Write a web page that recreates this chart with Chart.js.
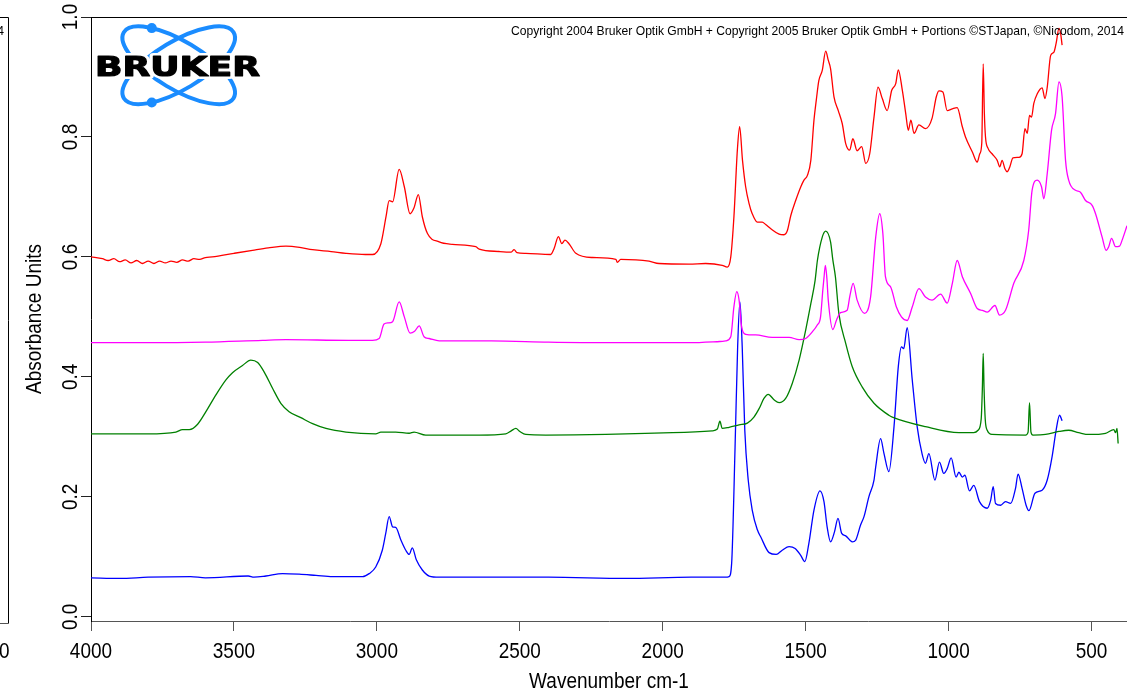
<!DOCTYPE html>
<html>
<head>
<meta charset="utf-8">
<title>IR spectra</title>
<script src="https://cdn.jsdelivr.net/npm/chart.js@4.4.1/dist/chart.umd.min.js"></script>
<style>
  html, body { margin: 0; padding: 0; background: #fff; }
  canvas { display: block; }
</style>
</head>
<body>
<canvas id="spectra" width="1127" height="693"></canvas>
<script>
// wavenumber (cm-1), absorbance pairs for each trace
const redSpectrum = [
  [4000,0.600],[3960,0.597],[3940,0.594],[3920,0.597],[3900,0.592],[3880,0.595],[3860,0.590],[3840,0.594],
  [3820,0.589],[3800,0.593],[3780,0.589],[3760,0.593],[3740,0.590],[3720,0.593],[3700,0.591],[3680,0.595],
  [3660,0.593],[3640,0.597],[3620,0.596],[3600,0.599],[3576,0.600],[3500,0.606],[3435,0.611],[3380,0.615],
  [3318,0.618],[3270,0.616],[3225,0.612],[3160,0.609],[3108,0.606],[3040,0.604],[3015,0.604],[2986,0.622],
  [2968,0.667],[2957,0.694],[2945,0.692],[2922,0.746],[2904,0.717],[2884,0.672],[2870,0.682],[2855,0.704],
  [2841,0.667],[2823,0.639],[2782,0.625],[2736,0.621],[2654,0.617],[2642,0.613],[2572,0.609],[2530,0.608],
  [2520,0.612],[2510,0.607],[2479,0.606],[2392,0.604],[2380,0.614],[2365,0.634],[2353,0.622],[2342,0.628],
  [2328,0.622],[2304,0.606],[2246,0.599],[2164,0.596],[2159,0.591],[2147,0.596],[2048,0.593],[2013,0.589],
  [1908,0.588],[1850,0.589],[1792,0.586],[1774,0.583],[1762,0.600],[1751,0.667],[1739,0.778],[1731,0.817],
  [1721,0.761],[1710,0.717],[1698,0.689],[1687,0.672],[1669,0.658],[1652,0.658],[1640,0.654],[1622,0.647],
  [1593,0.638],[1576,0.637],[1564,0.644],[1552,0.669],[1535,0.694],[1517,0.717],[1506,0.728],[1494,0.736],
  [1482,0.761],[1471,0.828],[1463,0.861],[1454,0.894],[1442,0.911],[1430,0.943],[1421,0.928],[1413,0.914],
  [1401,0.867],[1386,0.844],[1372,0.822],[1360,0.789],[1346,0.778],[1335,0.797],[1320,0.777],[1304,0.784],
  [1290,0.756],[1276,0.772],[1261,0.833],[1247,0.883],[1232,0.864],[1215,0.844],[1199,0.878],[1185,0.889],
  [1176,0.912],[1162,0.878],[1150,0.839],[1141,0.811],[1132,0.828],[1121,0.806],[1104,0.820],[1081,0.814],
  [1058,0.831],[1043,0.867],[1034,0.877],[1020,0.875],[1005,0.844],[987,0.847],[970,0.849],[952,0.817],
  [941,0.800],[917,0.775],[900,0.758],[891,0.772],[884,0.790],[879,0.922],[875,0.840],[871,0.800],
  [862,0.781],[848,0.772],[830,0.761],[821,0.750],[813,0.761],[803,0.747],[795,0.742],[786,0.750],
  [775,0.765],[754,0.766],[743,0.772],[733,0.814],[725,0.806],[717,0.836],[710,0.833],[702,0.856],
  [690,0.872],[673,0.882],[663,0.864],[655,0.883],[643,0.936],[632,0.941],[624,0.956],[614,0.981],
  [608,0.972],[603,0.953]
];

const magentaSpectrum = [
  [4000,0.457],[3800,0.457],[3600,0.458],[3400,0.461],[3318,0.462],[3100,0.461],[3015,0.461],[2992,0.464],
  [2975,0.488],[2960,0.490],[2945,0.492],[2922,0.525],[2904,0.500],[2884,0.473],[2868,0.476],[2852,0.485],
  [2835,0.467],[2817,0.464],[2782,0.460],[2600,0.460],[2400,0.458],[2200,0.457],[2000,0.457],[1908,0.457],
  [1800,0.459],[1780,0.460],[1762,0.467],[1751,0.517],[1741,0.542],[1733,0.528],[1724,0.483],[1710,0.471],
  [1675,0.470],[1617,0.466],[1558,0.466],[1523,0.462],[1500,0.464],[1477,0.475],[1460,0.486],[1448,0.500],
  [1440,0.545],[1436,0.565],[1431,0.586],[1426,0.565],[1421,0.528],[1405,0.479],[1392,0.495],[1378,0.507],
  [1355,0.511],[1345,0.536],[1334,0.556],[1320,0.528],[1294,0.506],[1273,0.533],[1255,0.633],[1241,0.672],
  [1230,0.639],[1221,0.567],[1203,0.550],[1183,0.517],[1165,0.500],[1145,0.494],[1127,0.517],[1104,0.547],
  [1081,0.533],[1058,0.528],[1028,0.538],[1005,0.523],[987,0.556],[970,0.594],[952,0.567],[923,0.539],
  [900,0.514],[882,0.511],[865,0.508],[838,0.519],[822,0.503],[801,0.511],[772,0.556],[737,0.594],
  [720,0.644],[708,0.711],[690,0.728],[675,0.717],[667,0.697],[655,0.739],[640,0.811],[626,0.839],
  [614,0.892],[603,0.867],[591,0.761],[580,0.728],[556,0.711],[539,0.708],[521,0.694],[498,0.686],
  [486,0.672],[463,0.633],[449,0.611],[440,0.617],[430,0.631],[416,0.617],[402,0.618],[393,0.628],
  [376,0.652]
];

const greenSpectrum = [
  [4000,0.305],[3800,0.305],[3703,0.308],[3680,0.312],[3656,0.312],[3627,0.321],[3598,0.342],[3563,0.370],
  [3528,0.395],[3505,0.407],[3470,0.419],[3441,0.428],[3417,0.424],[3394,0.408],[3365,0.381],[3336,0.356],
  [3307,0.342],[3266,0.332],[3225,0.322],[3178,0.314],[3108,0.308],[3004,0.305],[2986,0.308],[2934,0.308],
  [2887,0.306],[2870,0.308],[2829,0.303],[2642,0.303],[2549,0.305],[2530,0.310],[2514,0.314],[2500,0.309],
  [2479,0.304],[2409,0.303],[2199,0.304],[1966,0.307],[1827,0.310],[1809,0.313],[1800,0.326],[1792,0.314],
  [1768,0.316],[1733,0.320],[1704,0.323],[1681,0.333],[1663,0.347],[1646,0.364],[1631,0.371],[1611,0.362],
  [1593,0.357],[1570,0.364],[1547,0.389],[1523,0.428],[1500,0.478],[1482,0.522],[1467,0.561],[1459,0.594],
  [1442,0.633],[1430,0.643],[1413,0.625],[1405,0.595],[1396,0.567],[1384,0.506],[1360,0.456],[1337,0.417],
  [1302,0.383],[1261,0.356],[1209,0.336],[1197,0.333],[1081,0.317],[964,0.307],[912,0.307],[897,0.311],
  [886,0.330],[882,0.380],[879,0.439],[876,0.380],[872,0.330],[865,0.311],[848,0.304],[731,0.303],
  [722,0.308],[717,0.357],[712,0.308],[705,0.303],[661,0.304],[614,0.309],[580,0.311],[545,0.307],
  [509,0.304],[451,0.306],[422,0.312],[416,0.307],[411,0.314],[407,0.289]
];

const blueSpectrum = [
  [4000,0.065],[3900,0.064],[3800,0.066],[3652,0.067],[3600,0.065],[3450,0.068],[3430,0.066],[3388,0.068],
  [3330,0.072],[3272,0.071],[3213,0.069],[3155,0.067],[3050,0.067],[3027,0.072],[3004,0.083],[2981,0.111],
  [2969,0.139],[2957,0.167],[2945,0.150],[2934,0.149],[2916,0.128],[2899,0.111],[2887,0.104],[2876,0.115],
  [2862,0.095],[2841,0.078],[2817,0.068],[2782,0.066],[2400,0.066],[2129,0.064],[1900,0.066],[1780,0.066],
  [1768,0.067],[1759,0.089],[1747,0.283],[1738,0.450],[1730,0.525],[1722,0.450],[1713,0.311],[1701,0.228],
  [1687,0.178],[1669,0.145],[1657,0.133],[1628,0.107],[1603,0.104],[1582,0.111],[1558,0.117],[1537,0.114],
  [1518,0.103],[1503,0.092],[1489,0.122],[1471,0.178],[1450,0.210],[1436,0.192],[1425,0.150],[1413,0.125],
  [1399,0.142],[1387,0.164],[1374,0.139],[1360,0.135],[1337,0.125],[1325,0.128],[1308,0.153],[1296,0.167],
  [1279,0.200],[1261,0.228],[1255,0.250],[1238,0.297],[1226,0.272],[1209,0.242],[1191,0.317],[1176,0.417],
  [1165,0.450],[1157,0.447],[1145,0.482],[1127,0.394],[1110,0.317],[1093,0.272],[1081,0.256],[1069,0.272],
  [1048,0.228],[1032,0.258],[1017,0.239],[1005,0.247],[991,0.265],[974,0.233],[964,0.241],[952,0.233],
  [943,0.236],[927,0.210],[912,0.219],[892,0.192],[865,0.181],[853,0.194],[844,0.217],[836,0.189],
  [818,0.186],[801,0.192],[783,0.189],[766,0.214],[757,0.238],[743,0.214],[729,0.186],[719,0.177],
  [698,0.206],[673,0.211],[655,0.228],[638,0.267],[624,0.311],[612,0.336],[603,0.327]
];

const xTicks = [4000, 3500, 3000, 2500, 2000, 1500, 1000, 500];
const yTicks = [0.0, 0.2, 0.4, 0.6, 0.8, 1.0];
const xTitle = 'Wavenumber cm-1';
const yTitle = 'Absorbance Units';
const copyrightText = 'Copyright 2004 Bruker Optik GmbH + Copyright 2005 Bruker Optik GmbH + Portions \u00A9STJapan, \u00A9Nicodom, 2014';

const labelFont = "19px 'Liberation Sans', Arial, sans-serif";
const tallness = 1.2; // axis lettering is taller than a plain sans face

function toPoints(pairs) {
  return pairs.map(([wn, a]) => ({ x: wn, y: a }));
}

function trace(pairs, color) {
  return {
    data: toPoints(pairs),
    borderColor: color,
    borderWidth: 1.3,
    pointRadius: 0,
    cubicInterpolationMode: 'monotone',
    fill: false
  };
}

// text in the tall axis lettering; angle in radians, anchored at its baseline
function tallText(ctx, text, x, y, angle, align) {
  ctx.save();
  ctx.translate(x, y);
  ctx.rotate(angle);
  ctx.scale(1, tallness);
  ctx.font = labelFont;
  ctx.fillStyle = '#000';
  ctx.textAlign = align;
  ctx.textBaseline = 'alphabetic';
  ctx.fillText(text, 0, 0);
  ctx.restore();
}

// copyright line squeezed to a given width, right aligned
function drawCopyright(ctx, right, baseline, width) {
  ctx.save();
  ctx.font = "12px 'Liberation Sans', Arial, sans-serif";
  const w = ctx.measureText(copyrightText).width;
  ctx.translate(right - width, baseline);
  ctx.scale(width / w, 1.1);
  ctx.fillStyle = '#000';
  ctx.textBaseline = 'alphabetic';
  ctx.textAlign = 'left';
  ctx.fillText(copyrightText, 0, 0);
  ctx.restore();
}

// two crossed orbits with their dots, and the wordmark on top
function drawLogo(ctx) {
  const cx = 178.7, cy = 65.3;
  const a = 64, b = 24, tilt = 31 * Math.PI / 180;
  ctx.save();
  ctx.strokeStyle = '#1a8cff';
  ctx.fillStyle = '#1a8cff';
  ctx.lineWidth = 4;
  [tilt, -tilt].forEach((rot) => {
    ctx.beginPath();
    ctx.ellipse(cx, cy, a, b, rot, 0, Math.PI * 2);
    ctx.stroke();
  });
  // dot on each orbit, near its upper / lower left end
  const t = Math.PI + 0.85;
  const dx = a * Math.cos(t) * Math.cos(tilt) - b * Math.sin(t) * Math.sin(tilt);
  const dy = a * Math.cos(t) * Math.sin(tilt) + b * Math.sin(t) * Math.cos(tilt);
  [[cx + dx, cy + dy], [cx + dx, cy - dy]].forEach(([x, y]) => {
    ctx.beginPath();
    ctx.arc(x, y, 5, 0, Math.PI * 2);
    ctx.fill();
  });
  ctx.font = "bold 27px 'DejaVu Sans', sans-serif";
  const w = ctx.measureText('BRUKER').width;
  ctx.translate(95, 76);
  ctx.scale(165 / w, 1);
  ctx.textAlign = 'left';
  ctx.textBaseline = 'alphabetic';
  ctx.lineJoin = 'round';
  ctx.strokeStyle = '#fff';
  ctx.lineWidth = 6;
  ctx.strokeText('BRUKER', 0, 0);
  ctx.fillStyle = '#000';
  ctx.fillText('BRUKER', 0, 0);
  ctx.strokeStyle = '#000';
  ctx.lineWidth = 1.2;
  ctx.strokeText('BRUKER', 0, 0);
  ctx.restore();
}

const decorations = {
  id: 'decorations',
  afterDraw(chart) {
    const { ctx, chartArea } = chart;
    const xs = chart.scales.x;
    const ys = chart.scales.y;
    ctx.save();
    // frame line along the top
    ctx.strokeStyle = '#000';
    ctx.lineWidth = 1;
    ctx.beginPath();
    ctx.moveTo(chartArea.left, chartArea.top + 0.5);
    ctx.lineTo(chart.width, chartArea.top + 0.5);
    ctx.stroke();

    // tick labels and axis titles
    xTicks.forEach((v) => tallText(ctx, String(v), xs.getPixelForValue(v), 658, 0, 'center'));
    yTicks.forEach((v) => tallText(ctx, v.toFixed(1), 77, ys.getPixelForValue(v), -Math.PI / 2, 'center'));
    tallText(ctx, xTitle, (chartArea.left + chartArea.right) / 2, 688, 0, 'center');
    tallText(ctx, yTitle, 41, (chartArea.top + chartArea.bottom) / 2, -Math.PI / 2, 'center');

    // edge of the neighbouring panel on the left
    ctx.beginPath();
    ctx.moveTo(0, 17.5);
    ctx.lineTo(8.5, 17.5);
    ctx.lineTo(8.5, 623.5);
    ctx.strokeStyle = '#000';
    ctx.stroke();
    ctx.beginPath();
    ctx.moveTo(0, 623.5);
    ctx.lineTo(8.5, 623.5);
    ctx.strokeStyle = '#555';
    ctx.stroke();
    tallText(ctx, '500', 9.5, 658, 0, 'right');
    drawCopyright(ctx, 4, 35, 613);

    drawCopyright(ctx, 1124, 35, 613);
    drawLogo(ctx);
    ctx.restore();
  }
};

document.addEventListener('DOMContentLoaded', () => {
  const target = document.querySelector('#spectra');
  new Chart(target, {
    type: 'line',
    data: {
      datasets: [
        trace(redSpectrum, '#ff0000'),
        trace(magentaSpectrum, '#ff00ff'),
        trace(greenSpectrum, '#008000'),
        trace(blueSpectrum, '#0000ff')
      ]
    },
    options: {
      responsive: false,
      animation: false,
      devicePixelRatio: 1,
      layout: { padding: { top: 17, left: 0, right: 0, bottom: 0 } },
      plugins: { legend: { display: false }, tooltip: { enabled: false } },
      scales: {
        x: {
          type: 'linear',
          reverse: true,
          min: 376,
          max: 4000,
          afterBuildTicks: (scale) => { scale.ticks = xTicks.map((v) => ({ value: v })); },
          afterFit: (scale) => { scale.height = 72; },
          grid: { drawOnChartArea: false, drawTicks: true, tickLength: 10, color: '#555' },
          border: { display: true, color: '#555' },
          ticks: { display: false }
        },
        y: {
          type: 'linear',
          min: -0.007,
          max: 1.0,
          afterBuildTicks: (scale) => { scale.ticks = yTicks.map((v) => ({ value: v })); },
          afterFit: (scale) => { scale.width = 91; },
          grid: { drawOnChartArea: false, drawTicks: true, tickLength: 10, color: '#222' },
          border: { display: true, color: '#000' },
          ticks: { display: false }
        }
      }
    },
    plugins: [decorations]
  });
});
</script>
</body>
</html>
